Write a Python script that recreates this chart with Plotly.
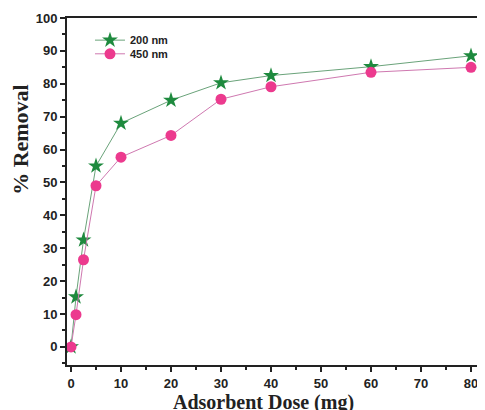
import plotly.graph_objects as go

dose = [0, 1, 2.5, 5, 10, 20, 30, 40, 60, 80]
removal_200 = [0, 15.2, 32.5, 55, 68, 75, 80.3, 82.5, 85.2, 88.5]
removal_450 = [0, 9.8, 26.5, 49, 57.7, 64.3, 75.3, 79.1, 83.5, 85]

legend_font = dict(family="Liberation Sans, Arial", size=11, color="#222", weight=700)

fig = go.Figure()
fig.add_trace(go.Scatter(
    x=dose, y=removal_200, name="200 nm", mode="lines+markers",
    line=dict(color="#6aa37a", width=1),
    marker=dict(symbol="star", size=12, color="#1e8a3e", line=dict(width=0)),
    legend="legend",
))
fig.add_trace(go.Scatter(
    x=dose, y=removal_450, name="450 nm", mode="lines+markers",
    line=dict(color="#cf78b0", width=1),
    marker=dict(symbol="circle", size=11, color="#ec3a8e", line=dict(width=0)),
    legend="legend2",
))

tickfont = dict(family="Liberation Sans, Arial", size=13, color="#222222", weight=700)
fig.update_layout(
    width=477, height=402,
    margin=dict(l=59, r=0, t=10, b=45),
    paper_bgcolor="white", plot_bgcolor="white",
    showlegend=True,
    legend=dict(x=0.055, y=0.978, xanchor="left", yanchor="top",
                bgcolor="rgba(0,0,0,0)", font=legend_font, itemwidth=30),
    legend2=dict(x=0.055, y=0.9386, xanchor="left", yanchor="top",
                 bgcolor="rgba(0,0,0,0)", font=legend_font, itemwidth=30),
    xaxis=dict(
        range=[-0.8, 82.8], tickmode="linear", tick0=0, dtick=10,
        ticks="outside", ticklen=5, tickwidth=2, tickcolor="#222",
        minor=dict(ticks="outside", ticklen=3, tickwidth=1.5, tickcolor="#222", dtick=5),
        showline=True, linewidth=2, linecolor="#222", mirror=True,
        showgrid=False, zeroline=False, automargin=False,
        tickfont=tickfont,
    ),
    yaxis=dict(
        range=[-5.5, 100], tickmode="linear", tick0=0, dtick=10,
        ticks="outside", ticklen=5, tickwidth=2, tickcolor="#222",
        minor=dict(ticks="outside", ticklen=3, tickwidth=1.5, tickcolor="#222", dtick=5),
        showline=True, linewidth=2, linecolor="#222", mirror=False,
        showgrid=False, zeroline=False, automargin=False,
        tickfont=tickfont,
    ),
    annotations=[
        dict(text="Adsorbent Dose (mg)", xref="paper", yref="paper",
             x=0.470, y=-0.108, xanchor="center", yanchor="middle", showarrow=False,
             font=dict(family="Liberation Serif, Times New Roman", size=20, color="#222", weight=700)),
        dict(text="% Removal", xref="paper", yref="paper", textangle=-90,
             x=-0.113, y=0.651, xanchor="center", yanchor="middle", showarrow=False,
             font=dict(family="Liberation Serif, Times New Roman", size=22, color="#222", weight=700)),
    ],
)
fig.write_html("out.html")
